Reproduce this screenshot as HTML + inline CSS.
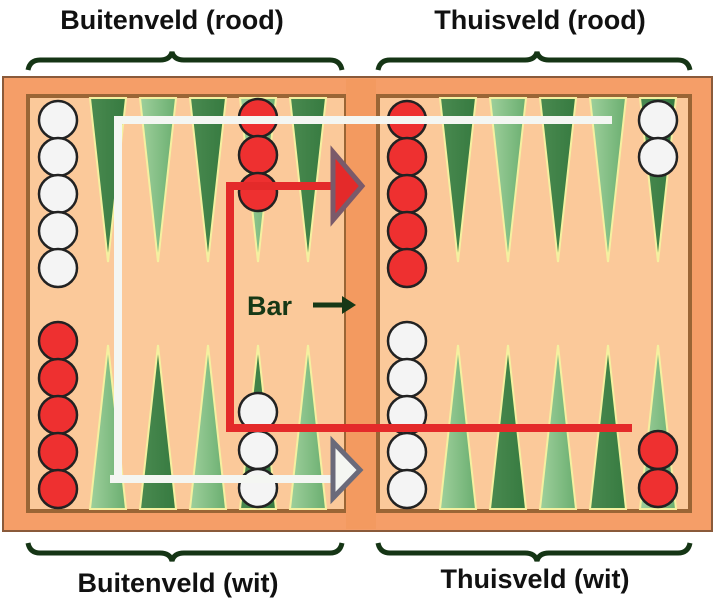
<!DOCTYPE html>
<html><head><style>
body{margin:0;background:#fff;width:715px;height:600px;overflow:hidden}
</style></head><body>
<svg width="715" height="600" viewBox="0 0 715 600" xmlns="http://www.w3.org/2000/svg">
<defs>
<linearGradient id="dk" x1="0" x2="1"><stop offset="0" stop-color="#4a8a50"/><stop offset="1" stop-color="#367a40"/></linearGradient>
<linearGradient id="lt" x1="0" x2="1"><stop offset="0" stop-color="#9fd09c"/><stop offset="1" stop-color="#6aae70"/></linearGradient>
</defs>
<g font-family="Liberation Sans, sans-serif" font-weight="bold" font-size="27" fill="#111" text-anchor="middle">
<text x="172" y="29">Buitenveld (rood)</text>
<text x="540" y="29">Thuisveld (rood)</text>
<text x="178" y="592">Buitenveld (wit)</text>
<text x="535" y="588">Thuisveld (wit)</text>
</g>
<g fill="none" stroke="#153515" stroke-width="5">
<path d="M28 70 Q30 60 40 60 L160 60 Q170 60 172 52 Q174 60 184 60 L330 60 Q340 60 342 70"/>
<path d="M378 70 Q380 60 390 60 L525 60 Q535 60 537 52 Q539 60 549 60 L678 60 Q688 60 690 70"/>
<path d="M28 543 Q30 553 40 553 L160 553 Q170 553 172 561 Q174 553 184 553 L330 553 Q340 553 342 543"/>
<path d="M378 543 Q380 553 390 553 L525 553 Q535 553 537 561 Q539 553 549 553 L678 553 Q688 553 690 543"/>
</g>
<rect x="3" y="77" width="709" height="454" fill="#f59e68" stroke="#8a5a3a" stroke-width="2"/>
<rect x="28" y="96" width="318" height="415" fill="#fbc99a" stroke="#9a6535" stroke-width="4"/>
<rect x="378" y="96" width="312" height="415" fill="#fbc99a" stroke="#9a6535" stroke-width="4"/>
<rect x="346" y="79" width="30" height="450" fill="#f39a60"/>
<g stroke="#f5f0a0" stroke-width="2">
<polygon points="90,98 126,98 108,262" fill="url(#dk)"/>
<polygon points="140,98 176,98 158,262" fill="url(#lt)"/>
<polygon points="190,98 226,98 208,262" fill="url(#dk)"/>
<polygon points="240,98 276,98 258,262" fill="url(#lt)"/>
<polygon points="290,98 326,98 308,262" fill="url(#dk)"/>
<polygon points="440,98 476,98 458,262" fill="url(#dk)"/>
<polygon points="490,98 526,98 508,262" fill="url(#lt)"/>
<polygon points="540,98 576,98 558,262" fill="url(#dk)"/>
<polygon points="590,98 626,98 608,262" fill="url(#lt)"/>
<polygon points="640,98 676,98 658,262" fill="url(#dk)"/>
<polygon points="90,509 126,509 108,345" fill="url(#lt)"/>
<polygon points="140,509 176,509 158,345" fill="url(#dk)"/>
<polygon points="190,509 226,509 208,345" fill="url(#lt)"/>
<polygon points="240,509 276,509 258,345" fill="url(#dk)"/>
<polygon points="290,509 326,509 308,345" fill="url(#lt)"/>
<polygon points="440,509 476,509 458,345" fill="url(#lt)"/>
<polygon points="490,509 526,509 508,345" fill="url(#dk)"/>
<polygon points="540,509 576,509 558,345" fill="url(#lt)"/>
<polygon points="590,509 626,509 608,345" fill="url(#dk)"/>
<polygon points="640,509 676,509 658,345" fill="url(#lt)"/>
</g>
<g stroke="#222" stroke-width="2.5">
<g fill="#f4f4f4">
<circle cx="58" cy="120" r="19"/><circle cx="58" cy="157" r="19"/><circle cx="58" cy="194" r="19"/><circle cx="58" cy="231" r="19"/><circle cx="58" cy="268" r="19"/>
<circle cx="658" cy="120" r="19"/><circle cx="658" cy="157" r="19"/>
<circle cx="407" cy="341" r="19"/><circle cx="407" cy="378" r="19"/><circle cx="407" cy="415" r="19"/><circle cx="407" cy="452" r="19"/><circle cx="407" cy="489" r="19"/>
<circle cx="258" cy="412" r="19"/><circle cx="258" cy="450" r="19"/><circle cx="258" cy="488" r="19"/>
</g>
<g fill="#ee3030">
<circle cx="58" cy="341" r="19"/><circle cx="58" cy="378" r="19"/><circle cx="58" cy="415" r="19"/><circle cx="58" cy="452" r="19"/><circle cx="58" cy="489" r="19"/>
<circle cx="407" cy="120" r="19"/><circle cx="407" cy="157" r="19"/><circle cx="407" cy="194" r="19"/><circle cx="407" cy="231" r="19"/><circle cx="407" cy="268" r="19"/>
<circle cx="258" cy="118" r="19"/><circle cx="258" cy="155" r="19"/><circle cx="258" cy="192" r="19"/>
<circle cx="658" cy="450" r="19"/><circle cx="658" cy="488" r="19"/>
</g>
</g>
<polyline points="118,482 118,120 612,120" fill="none" stroke="#f4f6f2" stroke-width="8"/>
<polyline points="110,479 332,479" fill="none" stroke="#f4f6f2" stroke-width="8"/>
<polygon points="333,442 360,470 333,498" fill="#f4f6f2" stroke="#6a6a7a" stroke-width="5"/>
<polyline points="333,186 230,186 230,428 632,428" fill="none" stroke="#e42a2a" stroke-width="8"/>
<polygon points="333,152 362,186 333,220" fill="#e42a2a" stroke="#7a5a6a" stroke-width="5"/>
<text x="247" y="315" font-family="Liberation Sans, sans-serif" font-weight="bold" font-size="27" fill="#163816">Bar</text>
<path d="M313 305 L345 305" stroke="#163816" stroke-width="5"/>
<polygon points="342,296 356,305 342,314" fill="#163816"/>
</svg>
</body></html>
